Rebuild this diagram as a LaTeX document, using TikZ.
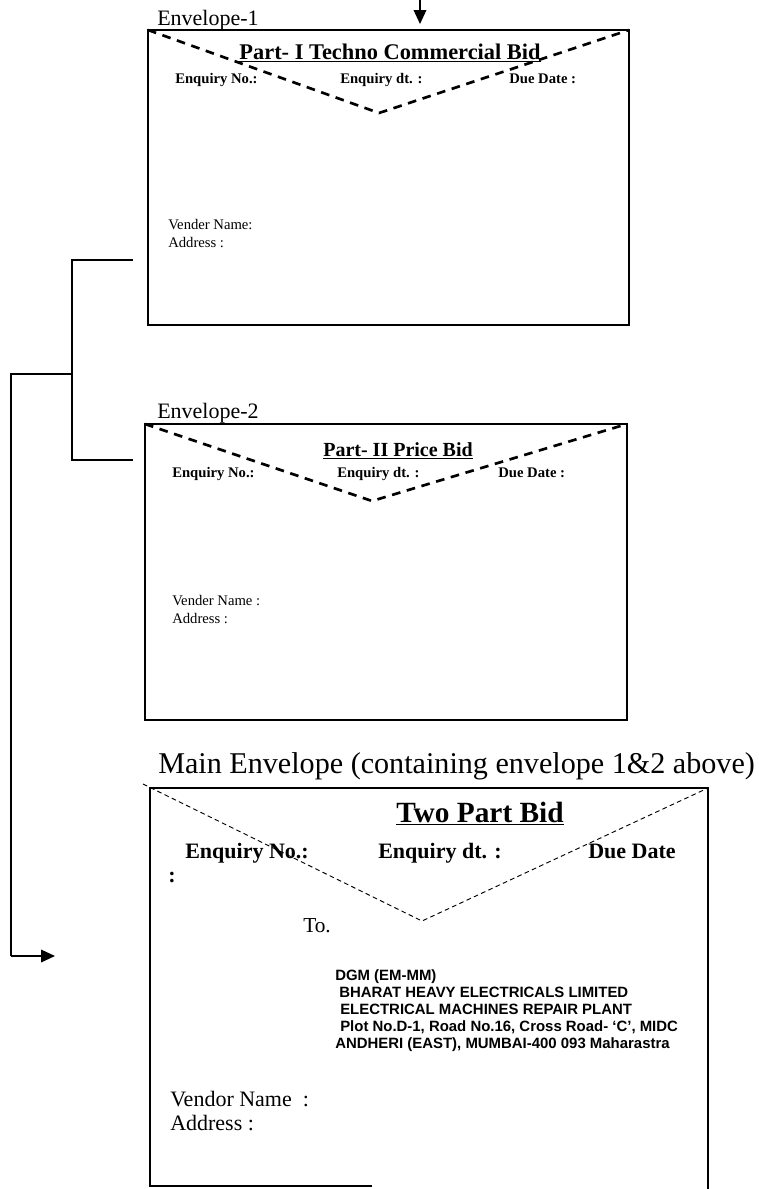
\documentclass[tikz,border=0pt]{standalone}
\usepackage{fontspec}
\setmainfont{Liberation Serif}
\newfontfamily\arialfont{Liberation Sans}
\usetikzlibrary{arrows.meta}
\begin{document}
\begin{tikzpicture}[x=0.75pt,y=-0.75pt,
  box/.style={line width=1.3pt},
  flap/.style={line width=2pt, dash pattern=on 6.5pt off 5pt},
  thinflap/.style={line width=0.7pt, dash pattern=on 3.5pt off 2.5pt},
  conn/.style={line width=1.1pt},
  arr/.style={line width=1.1pt,-{Triangle[length=10.5pt,width=9.5pt]}},
  lbl/.style={inner sep=0pt, anchor=base west},
  ctr/.style={inner sep=0pt, anchor=base},
  envlabel/.style={lbl, font=\fontsize{16.5pt}{20pt}\selectfont},
  smallbold/.style={lbl, font=\fontsize{11pt}{13pt}\selectfont\bfseries},
  smallreg/.style={lbl, font=\fontsize{11pt}{13pt}\selectfont},
  bigbold/.style={lbl, font=\fontsize{16.5pt}{19pt}\selectfont\bfseries},
  bigreg/.style={lbl, font=\fontsize{16.5pt}{19pt}\selectfont},
  addr/.style={lbl, font=\fontsize{11.2pt}{13pt}\selectfont\arialfont\bfseries}
]
\useasboundingbox (0,0) rectangle (758,1189);

% ---------- Envelope 1 ----------
\coordinate (e1tl) at (148,30);
\coordinate (e1br) at (629,325);
\coordinate (e1v) at (379,113);
\coordinate (e1tr) at (629,30);
\draw[box] (e1tl) rectangle (e1br);
\draw[flap] (e1tl) -- (e1v) -- (e1tr);
\node[envlabel] (e1lab) at (157,25) {Envelope-1};
\node[ctr, font=\fontsize{16.8pt}{20pt}\selectfont\bfseries] (e1title) at (390,59) {\underline{Part- I Techno Commercial Bid}};
\node[smallbold] (e1no) at (175,83) {Enquiry No.:};
\node[smallbold] (e1dt) at (340,83) {Enquiry dt. :};
\node[smallbold] (e1due) at (509,83) {Due Date :};
\node[smallreg] (e1vn) at (168,229) {Vender Name:};
\node[smallreg] (e1ad) at (168,247) {Address :};

% top arrow
\coordinate (topstart) at (420,0);
\coordinate (topend) at (420,24);
\draw[arr] (topstart) -- (topend);

% ---------- Envelope 2 ----------
\coordinate (e2tl) at (145,424);
\coordinate (e2br) at (627,720);
\coordinate (e2v) at (372,501);
\coordinate (e2tr) at (627,424);
\draw[box] (e2tl) rectangle (e2br);
\draw[flap] (e2tl) -- (e2v) -- (e2tr);
\node[envlabel] (e2lab) at (157,418) {Envelope-2};
\node[ctr, font=\fontsize{15pt}{18pt}\selectfont\bfseries] (e2title) at (398,456) {\underline{Part- II Price Bid}};
\node[smallbold] (e2no) at (172,477) {Enquiry No.:};
\node[smallbold] (e2dt) at (337,477) {Enquiry dt. :};
\node[smallbold] (e2due) at (498,477) {Due Date :};
\node[smallreg] (e2vn) at (172,605) {Vender Name :};
\node[smallreg] (e2ad) at (172,623) {Address :};

% ---------- connectors ----------
\coordinate (c1) at (133,260);
\coordinate (c2) at (133,460);
\coordinate (j1) at (72,260);
\coordinate (j2) at (72,460);
\coordinate (jm) at (72,374);
\coordinate (jl) at (11,374);
\coordinate (jb) at (11,956);
\coordinate (aend) at (55,956);
\draw[conn] (c1) -- (j1) -- (j2) -- (c2);
\draw[conn] (jm) -- (jl) -- (jb);
\draw[arr] (jb) -- (aend);

% ---------- Main envelope ----------
\node[lbl, font=\fontsize{22.6pt}{26pt}\selectfont] (mlab) at (158,773) {Main Envelope (containing envelope 1\&2 above)};
\coordinate (mtl) at (150,788);
\coordinate (mtr) at (708,788);
\coordinate (mbl) at (150,1186);
\coordinate (mbm) at (372,1186);
\coordinate (mbr) at (708,1189);
\coordinate (mfl) at (143,784);
\coordinate (mv) at (422,921);
\draw[box] (mbm) -- (mbl) -- (mtl) -- (mtr) -- (mbr);
\draw[thinflap] (mfl) -- (mv) -- (mtr);
\node[ctr, font=\fontsize{22pt}{25pt}\selectfont\bfseries] (mtitle) at (480,822) {\underline{Two Part Bid}};
\node[bigbold] (mno) at (185,858) {Enquiry No.:};
\node[bigbold] (mdt) at (378,858) {Enquiry dt. :};
\node[bigbold] (mdue) at (588,858) {Due Date};
\node[bigbold] (mcolon) at (168,882) {:};
\node[lbl, font=\fontsize{16pt}{19pt}\selectfont] (mto) at (303,932) {To.};
\node[addr] (a1) at (335,980) {DGM (EM-MM)};
\node[addr] (a2) at (339,997) {BHARAT HEAVY ELECTRICALS LIMITED};
\node[addr] (a3) at (340,1014) {ELECTRICAL MACHINES REPAIR PLANT};
\node[addr] (a4) at (340,1031) {Plot No.D-1, Road No.16, Cross Road- ‘C’, MIDC};
\node[addr] (a5) at (335,1048) {ANDHERI (EAST), MUMBAI-400 093 Maharastra};
\node[bigreg] (mvn) at (170,1106) {Vendor Name\ \ :};
\node[bigreg] (mad) at (170,1130) {Address :};
\end{tikzpicture}
\end{document}
